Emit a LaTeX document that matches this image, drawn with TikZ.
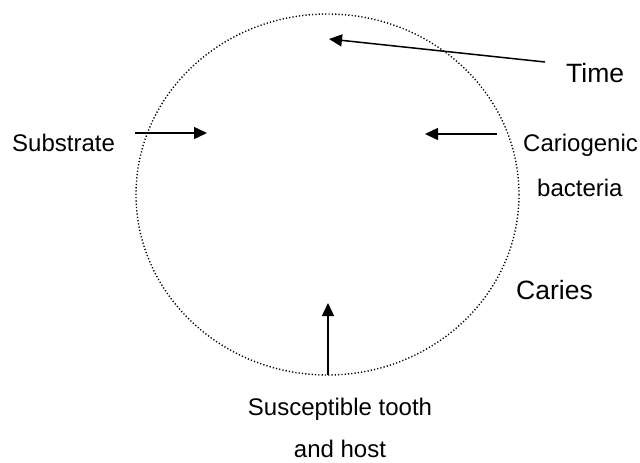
\documentclass[tikz,border=0pt]{standalone}
\usepackage{fontspec}
\setmainfont{Liberation Sans}
\usetikzlibrary{arrows.meta}
\begin{document}
\begin{tikzpicture}[x=1pt,y=-1pt,
  lbl/.style={inner sep=0pt,font=\fontsize{24}{24}\selectfont},
  biglbl/.style={inner sep=0pt,font=\fontsize{26.5}{26.5}\selectfont},
  arr/.style={line width=1.5pt,-{Triangle[length=13pt,width=12pt]}},
  ring/.style={line width=1.4pt,dash pattern=on 1.2pt off 2.1pt}]
\useasboundingbox[fill=white] (0,0) rectangle (640,463);
% dotted circle
\draw[ring] (327.5,194.5) ellipse [x radius=191.5, y radius=180.5];
% labels
\node[lbl,anchor=base west] (sub) at (12,151) {Substrate};
\node[lbl,anchor=base west] (car) at (523,151) {Cariogenic};
\node[lbl,anchor=base west] (bac) at (537,196) {bacteria};
\node[biglbl,anchor=base west] (time) at (566,82) {Time};
\node[biglbl,anchor=base west] (caries) at (516,299) {Caries};
\node[lbl,anchor=base] (sus) at (340,415) {Susceptible tooth};
\node[lbl,anchor=base] (host) at (340,457) {and host};
% arrow end points
\coordinate (timeS) at (545,62);
\coordinate (timeE) at (329,39);
\coordinate (subS) at (135,133);
\coordinate (subE) at (207,133);
\coordinate (carS) at (497,134);
\coordinate (carE) at (425,134);
\coordinate (susS) at (328,375);
\coordinate (susE) at (328,303);
\draw[arr] (timeS) -- (timeE);
\draw[arr] (subS) -- (subE);
\draw[arr] (carS) -- (carE);
\draw[arr] (susS) -- (susE);
\end{tikzpicture}
\end{document}
